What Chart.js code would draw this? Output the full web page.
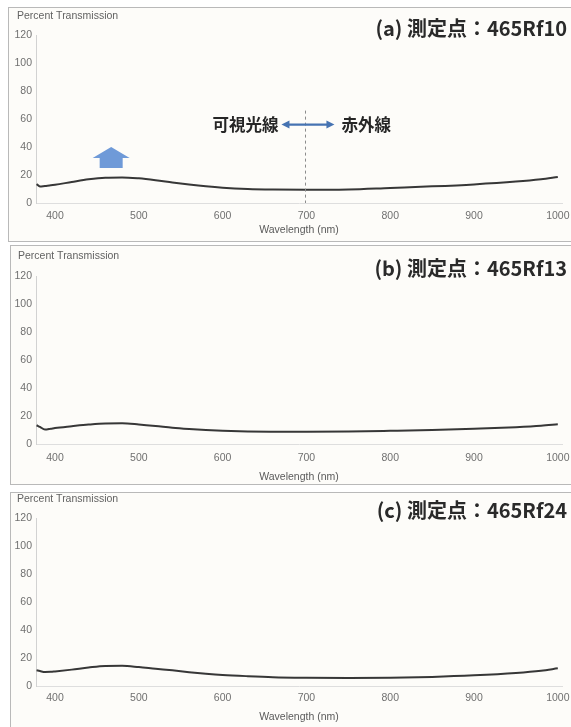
<!DOCTYPE html>
<html>
<head>
<meta charset="utf-8">
<script src="https://cdn.jsdelivr.net/npm/chart.js@4/dist/chart.umd.min.js"></script>
<style>
  html, body { margin: 0; padding: 0; background: #ffffff; width: 571px; height: 727px; overflow: hidden; }
  .panel { position: absolute; background: #fdfcf9; border: 1px solid #b9b9b9; box-sizing: border-box; }
  .panel canvas { position: absolute; left: 0; top: 0; }
</style>
</head>
<body>
<div class="panel" style="left:8px; top:7px; width:600px; height:235px;"><canvas id="chartA" width="562" height="233"></canvas></div>
<div class="panel" style="left:10px; top:245px; width:600px; height:240px;"><canvas id="chartB" width="560" height="238"></canvas></div>
<div class="panel" style="left:10px; top:492px; width:600px; height:240px;"><canvas id="chartC" width="560" height="238"></canvas></div>
<script>
// Sampled wavelengths (nm), shared by the three spectra
const WAVELENGTHS = [378, 382, 388, 395, 400, 420, 440, 460, 480, 500, 520, 540, 560, 580, 600, 630, 660, 700, 750, 800, 850, 900, 950, 980, 1000];

// Percent transmission at each measurement point
const TRANS_RF10 = [13.5, 11.8, 12.2, 12.6, 13.0, 15.0, 16.9, 18.1, 18.3, 17.6, 16.3, 14.7, 13.2, 11.9, 10.9, 10.0, 9.6, 9.4, 9.7, 10.8, 11.9, 13.3, 15.3, 17.0, 18.6];
const TRANS_RF13 = [13.4, 12.2, 10.3, 10.9, 11.4, 12.7, 13.9, 14.7, 14.8, 14.0, 12.9, 11.6, 10.7, 10.0, 9.5, 9.0, 8.8, 8.7, 8.9, 9.4, 10.0, 10.9, 12.0, 13.0, 14.1];
const TRANS_RF24 = [11.2, 10.7, 10.0, 10.1, 10.4, 11.7, 13.2, 14.3, 14.4, 13.5, 12.3, 11.2, 9.9, 8.8, 7.9, 7.0, 6.3, 5.9, 5.7, 5.9, 6.5, 7.6, 9.3, 10.9, 12.6];

// Axis ticks
const X_TICKS = [400, 500, 600, 700, 800, 900, 1000];
const Y_TICKS = [0, 20, 40, 60, 80, 100, 120];

const PANEL_LABELS = ['(a) 測定点：465Rf10', '(b) 測定点：465Rf13', '(c) 測定点：465Rf24'];
const REGION_LABELS = ['可視光線', '赤外線'];
const BOUNDARY_NM = 700;
const PEAK_MARK_NM = 467;

const CJK_FONT = '"Noto Sans CJK JP", "Noto Sans CJK SC", sans-serif';
const SMALL_FONT = '"Liberation Sans", Arial, sans-serif';

// Axis title "Percent Transmission" and the bold panel heading
const panelText = {
  id: 'panelText',
  afterDraw(chart, args, opts) {
    const ctx = chart.ctx;
    ctx.save();
    ctx.textBaseline = 'middle';
    ctx.textAlign = 'left';
    ctx.fillStyle = '#626262';
    ctx.font = '10.5px ' + SMALL_FONT;
    ctx.fillText('Percent Transmission', opts.yTitleX, opts.yTitleY);
    ctx.textAlign = 'right';
    ctx.fillStyle = '#2a2a2a';
    ctx.font = 'bold 20px ' + CJK_FONT;
    ctx.fillText(opts.label, opts.labelRight, opts.labelY);
    ctx.restore();
  }
};

// Visible / infrared boundary and the upward marker (first panel only)
const spectrumMarks = {
  id: 'spectrumMarks',
  afterDatasetsDraw(chart) {
    const { ctx, scales: { x, y } } = chart;
    const xm = x.getPixelForValue(BOUNDARY_NM);
    ctx.save();
    // dashed boundary line
    ctx.strokeStyle = '#8c8c8c';
    ctx.lineWidth = 1;
    ctx.setLineDash([3, 3]);
    ctx.beginPath();
    ctx.moveTo(Math.round(xm) - 0.5, y.getPixelForValue(66));
    ctx.lineTo(Math.round(xm) - 0.5, y.getPixelForValue(0));
    ctx.stroke();
    ctx.setLineDash([]);

    // double-headed arrow
    const ya = y.getPixelForValue(56);
    const xl = xm - 25, xr = xm + 28;
    ctx.strokeStyle = '#4673b2';
    ctx.fillStyle = '#4673b2';
    ctx.lineWidth = 2.2;
    ctx.beginPath();
    ctx.moveTo(xl + 6, ya);
    ctx.lineTo(xr - 6, ya);
    ctx.stroke();
    ctx.beginPath();
    ctx.moveTo(xl, ya); ctx.lineTo(xl + 8, ya - 4); ctx.lineTo(xl + 8, ya + 4); ctx.closePath();
    ctx.fill();
    ctx.beginPath();
    ctx.moveTo(xr, ya); ctx.lineTo(xr - 8, ya - 4); ctx.lineTo(xr - 8, ya + 4); ctx.closePath();
    ctx.fill();

    // region labels
    ctx.fillStyle = '#262626';
    ctx.font = 'bold 16.5px ' + CJK_FONT;
    ctx.textBaseline = 'middle';
    ctx.textAlign = 'right';
    ctx.fillText(REGION_LABELS[0], xm - 28, ya);
    ctx.textAlign = 'left';
    ctx.fillText(REGION_LABELS[1], xm + 35, ya);

    // upward block arrow at the transmission peak
    const xp = x.getPixelForValue(PEAK_MARK_NM);
    const yTip = y.getPixelForValue(40);
    const yBase = y.getPixelForValue(25);
    const yNeck = yTip + 11;
    ctx.fillStyle = '#6f9ad8';
    ctx.beginPath();
    ctx.moveTo(xp, yTip);
    ctx.lineTo(xp + 18.5, yNeck);
    ctx.lineTo(xp + 11.5, yNeck);
    ctx.lineTo(xp + 11.5, yBase);
    ctx.lineTo(xp - 11.5, yBase);
    ctx.lineTo(xp - 11.5, yNeck);
    ctx.lineTo(xp - 18.5, yNeck);
    ctx.closePath();
    ctx.fill();
    ctx.restore();
  }
};

function buildChart(id, values, label, g, extraPlugins) {
  return new Chart(document.getElementById(id), {
    type: 'line',
    data: {
      datasets: [{
        data: WAVELENGTHS.map((w, i) => ({ x: w, y: values[i] })),
        borderColor: '#373737',
        borderWidth: 2,
        pointRadius: 0,
        fill: false,
        cubicInterpolationMode: 'monotone'
      }]
    },
    options: {
      responsive: false,
      animation: false,
      devicePixelRatio: 1,
      layout: { padding: { top: g.top, right: g.right, left: 0, bottom: 0 } },
      plugins: {
        legend: { display: false },
        tooltip: { enabled: false },
        panelText: { label: label, yTitleX: g.yTitleX, yTitleY: g.yTitleY, labelRight: g.labelRight, labelY: g.labelY }
      },
      scales: {
        x: {
          type: 'linear',
          min: 377.3,
          max: 1005,
          afterBuildTicks: s => { s.ticks = X_TICKS.map(v => ({ value: v })); },
          afterFit: s => { s.height = g.xh; s.paddingLeft = 0; s.paddingRight = 0; },
          grid: { display: false, drawTicks: false },
          border: { color: '#dedede' },
          ticks: { color: '#707070', font: { size: 10.5, family: SMALL_FONT }, padding: g.xTickPad, maxRotation: 0, autoSkip: false, callback: v => String(v) },
          title: { display: true, text: 'Wavelength (nm)', color: '#5a5a5a', font: { size: 10.5, family: SMALL_FONT }, padding: { top: 0, bottom: g.xTitlePad } }
        },
        y: {
          min: 0,
          max: 120,
          afterBuildTicks: s => { s.ticks = Y_TICKS.map(v => ({ value: v })); },
          afterFit: s => { s.width = g.yw; s.paddingTop = 0; s.paddingBottom = 0; },
          grid: { display: false, drawTicks: false },
          border: { color: '#d2d2d2' },
          ticks: { color: '#707070', font: { size: 10.5, family: SMALL_FONT }, padding: 4, callback: v => String(v) }
        }
      }
    },
    plugins: [panelText].concat(extraPlugins || [])
  });
}

buildChart('chartA', TRANS_RF10, PANEL_LABELS[0],
  { top: 27, right: 9, yw: 27, xh: 38, xTickPad: 7, xTitlePad: 5, yTitleX: 8, yTitleY: 8, labelRight: 558, labelY: 20 },
  [spectrumMarks]);
buildChart('chartB', TRANS_RF13, PANEL_LABELS[1],
  { top: 30, right: 9, yw: 25, xh: 40, xTickPad: 8, xTitlePad: 1, yTitleX: 7, yTitleY: 10, labelRight: 556, labelY: 22 });
buildChart('chartC', TRANS_RF24, PANEL_LABELS[2],
  { top: 25, right: 9, yw: 25, xh: 45, xTickPad: 6, xTitlePad: 8, yTitleX: 6, yTitleY: 6, labelRight: 556, labelY: 17 });
</script>
</body>
</html>
